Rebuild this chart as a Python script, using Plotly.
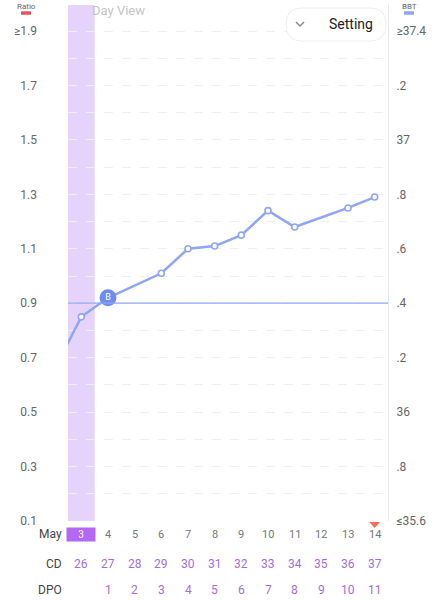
import plotly.graph_objects as go

# BBT readings (day of May -> temperature), days 5 and 12 missing
bbt_days = [2, 3, 4, 6, 7, 8, 9, 10, 11, 13, 14]
bbt_vals = [36.16, 36.35, 36.42, 36.51, 36.60, 36.61, 36.65, 36.74, 36.68, 36.75, 36.79]

cal_days = [3, 4, 5, 6, 7, 8, 9, 10, 11, 12, 13, 14]
cd_vals = [26, 27, 28, 29, 30, 31, 32, 33, 34, 35, 36, 37]
dpo_vals = ['', 1, 2, 3, 4, 5, 6, 7, 8, 9, 10, 11]

coverline = 36.4
b_day, b_val = 4, 36.42
selected_day = 3
today = 14

ratio_ticks = [0.1, 0.3, 0.5, 0.7, 0.9, 1.1, 1.3, 1.5, 1.7, 1.9]
ratio_text = ['0.1', '0.3', '0.5', '0.7', '0.9', '1.1', '1.3', '1.5', '1.7', '≥1.9']
ratio_minor = [0.2, 0.4, 0.6, 0.8, 1.0, 1.2, 1.4, 1.6, 1.8]
bbt_ticks = [35.6, 35.8, 36.0, 36.2, 36.4, 36.6, 36.8, 37.0, 37.2, 37.4]
bbt_text = ['≤35.6', '.8', '36', '.2', '.4', '.6', '.8', '37', '.2', '≥37.4']

W, H = 434, 600
L, R, T, B = 68, 46, 5, 79
PW, PH = W - L - R, H - T - B

FONT = 'Roboto, Arial, sans-serif'
LINE = '#8fa6f6'
PURPLE = '#a46dde'


def px(x):
    return (x - L) / PW


def py(y):
    return (H - B - y) / PH


top_bbt = 37.4 + (31 - T) / 272.2
top_ratio = 0.1 + (top_bbt - 35.6)

fig = go.Figure()

# invisible trace so the left (ratio) axis is drawn
fig.add_trace(go.Scatter(x=[selected_day], y=[0.1], yaxis='y', mode='markers',
                         marker=dict(opacity=0), hoverinfo='skip', showlegend=False))

fig.add_trace(go.Scatter(
    x=bbt_days, y=bbt_vals, yaxis='y2', mode='lines+markers',
    line=dict(color=LINE, width=2.5),
    marker=dict(size=6, color='white', line=dict(color=LINE, width=1.6)),
    hoverinfo='skip', showlegend=False))

fig.add_trace(go.Scatter(
    x=[b_day], y=[b_val], yaxis='y2', mode='markers+text', text=['B'],
    textposition='middle center', textfont=dict(color='white', size=9, family=FONT),
    marker=dict(size=17, color='#6e8cf2'), hoverinfo='skip', showlegend=False))


def rounded(x0, y0, x1, y1, r):
    # pixel coords (y down) -> paper path
    return ('M {a},{t} L {b},{t} Q {R},{t} {R},{tr} L {R},{br} Q {R},{bt} {b},{bt} '
            'L {a},{bt} Q {Lx},{bt} {Lx},{br} L {Lx},{tr} Q {Lx},{t} {a},{t} Z').format(
        a=px(x0 + r), b=px(x1 - r), R=px(x1), Lx=px(x0),
        t=py(y0), tr=py(y0 + r), br=py(y1 - r), bt=py(y1))


shapes = [
    dict(type='rect', xref='x', yref='paper', x0=selected_day - 0.5, x1=selected_day + 0.5,
         y0=0, y1=1, fillcolor='#e6d3fc', line_width=0, layer='between'),
    dict(type='line', xref='paper', yref='y2', x0=0, x1=1, y0=coverline, y1=coverline,
         line=dict(color=LINE, width=1.2)),
    # legend dashes
    dict(type='line', xref='paper', yref='paper', x0=px(21), x1=px(31), y0=py(13), y1=py(13),
         line=dict(color='#e8525c', width=3.5)),
    dict(type='line', xref='paper', yref='paper', x0=px(404), x1=px(414), y0=py(13), y1=py(13),
         line=dict(color='#8fa6f6', width=3.5)),
    # setting button
    dict(type='path', xref='paper', yref='paper', layer='above',
         path=rounded(286, 8, 386, 41, 16),
         fillcolor='white', line=dict(color='#eeeeee', width=1)),
    dict(type='path', xref='paper', yref='paper', layer='above',
         path='M {},{} L {},{} L {},{}'.format(px(296), py(22), px(300), py(26), px(304), py(22)),
         line=dict(color='#8a8a8a', width=1.5)),
    # today marker
    dict(type='path', xref='x', yref='paper',
         path='M {},{} L {},{} L {},{} Z'.format(today - 0.2, py(522), today + 0.2, py(522),
                                                  today, py(528)),
         fillcolor='#ff6a55', line_width=0),
]
fig.update_layout(shapes=shapes)


def note(**kw):
    kw.setdefault('showarrow', False)
    kw.setdefault('xanchor', 'center')
    kw.setdefault('yanchor', 'middle')
    return kw


ann = []
for label, shift in [('May', -13), ('CD', -43), ('DPO', -69)]:
    ann.append(note(xref='paper', yref='paper', x=px(64), y=0, yshift=shift, text=label,
                    xanchor='right', font=dict(size=12, color='#444')))
for d, c, p in zip(cal_days, cd_vals, dpo_vals):
    if d == selected_day:
        ann.append(note(x=d, xref='x', yref='paper', y=0, yshift=-13, text=str(d),
                        bgcolor='#b466f4', width=26, height=11,
                        font=dict(size=10, color='white')))
    else:
        ann.append(note(x=d, xref='x', yref='paper', y=0, yshift=-13, text=str(d),
                        font=dict(size=11, color='#777')))
    ann.append(note(x=d, xref='x', yref='paper', y=0, yshift=-43, text=str(c),
                    font=dict(size=12, color=PURPLE)))
    ann.append(note(x=d, xref='x', yref='paper', y=0, yshift=-69, text=str(p),
                    font=dict(size=12, color=PURPLE)))
# headers
ann.append(note(xref='paper', yref='paper', x=px(26), y=py(6), text='Ratio',
                font=dict(size=8, color='#666')))
ann.append(note(xref='paper', yref='paper', x=px(409), y=py(6), text='BBT',
                font=dict(size=8, color='#666')))
ann.append(note(xref='paper', yref='paper', x=px(118), y=py(10), text='Day View',
                font=dict(size=13, color='#c4c4c4')))
ann.append(note(xref='paper', yref='paper', x=px(351), y=py(24), text='Setting',
                font=dict(size=14, color='#222')))
fig.update_layout(annotations=ann)

fig.update_layout(
    width=W, height=H,
    margin=dict(l=L, r=R, t=T, b=B, autoexpand=False),
    paper_bgcolor='white', plot_bgcolor='white',
    font=dict(family=FONT, size=11, color='#666'),
    xaxis=dict(range=[2.5, 14.5], showgrid=False, zeroline=False, showticklabels=False,
               fixedrange=True, automargin=False),
    yaxis=dict(range=[0.1, top_ratio], tickmode='array', tickvals=ratio_ticks,
               ticktext=ratio_text, showgrid=True, gridcolor='#efefef', griddash='dash',
               gridwidth=1, zeroline=False, ticklabelstandoff=30, automargin=False,
               tickfont=dict(size=12, color='#666'),
               minor=dict(tickvals=ratio_minor, showgrid=True, gridcolor='#efefef',
                          griddash='dash', gridwidth=1)),
    yaxis2=dict(range=[35.6, top_bbt], overlaying='y', side='right', tickmode='array',
                tickvals=bbt_ticks, ticktext=bbt_text, showgrid=False, zeroline=False,
                showline=True, linecolor='#e8e8e8', linewidth=1, ticklabelstandoff=5,
                automargin=False, tickfont=dict(size=12, color='#666')),
)

# the page's default body margin would shift the fixed-size figure
fig.write_html('out.html', config={'displayModeBar': False},
               post_script="document.body.style.margin='0';")
